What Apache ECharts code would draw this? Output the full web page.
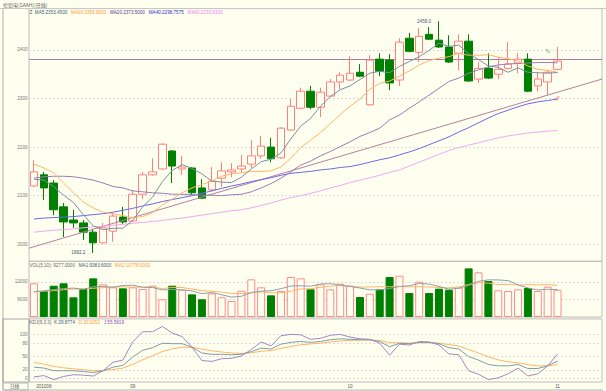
<!DOCTYPE html>
<html><head><meta charset="utf-8">
<script src="https://cdn.jsdelivr.net/npm/echarts@6.0.0/dist/echarts.min.js"></script>
<style>html,body{margin:0;padding:0;background:#fffff0;}#c{width:606px;height:391px;}</style>
</head><body><div id="c"></div>
<script>
// ---------- data ----------
const slotCount = 58; // 54 trading days + 4 empty slots on the right
const monthTickIndex = [1, 10, 32, 53];
const monthTickLabel = ['201008', '09', '10', '11'];
const priceTicks = [2000, 2100, 2200, 2300, 2400];
const volTicks = [6000, 12000];
const kdjTicks = [0, 20, 50, 80, 100];

const opens = [2120,2143,2126,2077,2050,2044,2025,2003,2027,2056,
  2048,2103,2143,2155,2192,2155,2157,2116,2112,2136,
  2149,2155,2165,2182,2200,2178,2235,2280,2315,2282,
  2305,2334,2338,2354,2287,2381,2379,2338,2424,2395,
  2432,2420,2406,2393,2418,2340,2362,2350,2362,2373,
  2381,2326,2334,2360];
const closes = [2149,2116,2071,2046,2044,2025,2003,2034,2058,2046,
  2103,2143,2149,2206,2161,2159,2106,2095,2130,2151,
  2153,2161,2182,2202,2176,2239,2284,2315,2282,2313,
  2334,2348,2352,2346,2379,2356,2332,2416,2397,2428,
  2422,2406,2375,2418,2336,2362,2342,2360,2371,2381,
  2315,2340,2354,2377];
const lows = [2118,2091,2060,2015,2034,2009,1982.2,2001,2005,2042,
  2046,2093,2141,2153,2126,2143,2101,2093,2108,2118,
  2138,2147,2157,2176,2169,2176,2233,2278,2278,2262,
  2303,2319,2336,2344,2285,2346,2317,2326,2395,2375,
  2420,2404,2373,2358,2334,2332,2340,2340,2360,2352,
  2313,2315,2307,2358];
const highs = [2173,2149,2132,2085,2071,2050,2032,2044,2064,2077,
  2112,2149,2177,2208,2194,2182,2159,2134,2159,2169,
  2167,2184,2214,2223,2219,2241,2299,2322,2326,2322,
  2340,2354,2387,2371,2389,2393,2391,2424,2435,2445,
  2447,2459,2430,2432,2432,2375,2393,2385,2416,2393,
  2393,2354,2358,2406];

const ma5 = [2134,2132,2119,2101,2086,2061,2038,2030,2033,2033,
  2049,2077,2097,2129,2152,2164,2156,2145,2130,2128,
  2127,2138,2155,2170,2175,2188,2217,2243,2259,2284,
  2304,2318,2326,2339,2352,2356,2353,2366,2376,2386,
  2399,2414,2407,2410,2392,2380,2367,2364,2354,2363,
  2354,2353,2352,2353.45];
const ma10 = [2165,2157,2147,2126,2106,2087,2075,2066,2063,2059,
  2055,2057,2065,2081,2093,2106,2116,2123,2130,2140,
  2145,2147,2150,2150,2151,2159,2177,2199,2214,2230,
  2248,2267,2284,2299,2319,2331,2336,2346,2357,2369,
  2378,2383,2386,2393,2389,2389,2390,2385,2382,2377,
  2367,2360,2358,2353.95];
const ma20 = [2136,2139,2140,2140,2139,2136,2132,2126,2119,2116,
  2110,2108,2106,2105,2103,2103,2102,2101,2101,2100,
  2102,2103,2108,2116,2125,2136,2149,2163,2171,2182,
  2191,2201,2211,2222,2230,2239,2256,2266,2280,2293,
  2307,2321,2335,2342,2352,2359,2365,2369,2371,2372,
  2373,2374,2374,2373.5];
const ma40 = [2052,2054,2055,2056,2057,2059,2061,2063,2066,2070,
  2074,2079,2083,2088,2092,2096,2100,2105,2110,2115,
  2120,2124,2129,2133,2137,2142,2146,2148,2150,2153,
  2155,2158,2160,2164,2169,2174,2178,2184,2190,2197,
  2205,2213,2221,2231,2240,2250,2260,2269,2276,2283,
  2289,2293,2296,2298.7575];
const ma60 = [2025,2027,2029,2030,2032,2034,2036,2037,2039,2041,
  2043,2045,2047,2049,2052,2054,2057,2060,2063,2066,
  2069,2071,2075,2080,2085,2091,2096,2100,2105,2110,
  2116,2121,2127,2132,2137,2142,2148,2153,2161,2169,
  2177,2185,2193,2199,2204,2209,2214,2219,2223,2226,
  2229,2231,2233,2233.8333];

const trendLine = [[-0.5, 1992], [57.5, 2340]];
const resistanceLevel = 2381;

const volumes = [11490,8860,10680,11490,6720,9550,13180,11140,10120,9770,
  10120,9550,10680,6030,10680,9320,7720,6030,8070,6720,
  5450,8980,12850,10120,7390,8860,13640,13180,9430,11140,
  9430,11360,10680,6820,7950,9430,13640,14090,8180,12050,
  8180,9660,9320,10000,16590,15230,12270,9090,8860,9430,
  9890,8860,10330,9277];
const volMa5 = [8700,8900,9300,9700,9850,9460,10320,10420,10140,10750,
  10870,10140,10050,9230,9410,9250,8890,7960,8360,7570,
  6800,7050,8410,8820,8960,9640,10570,10640,10500,11250,
  11360,10910,10410,9890,9250,9250,9700,10390,10660,11480,
  11230,10430,9480,9840,10750,12160,12680,12640,12410,10980,
  9910,9230,9470,9383.6];
const volMa10 = [8500,8800,9000,9300,9500,9600,9800,10000,10200,10300,
  10160,10230,10230,9690,10080,10060,9510,9000,8800,8490,
  8030,7970,8190,8590,8270,8220,8810,9530,9660,10100,
  10500,10740,10520,10190,10250,10310,10310,10400,10270,10360,
  10240,10070,9930,10250,11110,11690,11560,11060,11130,10860,
  11030,10950,11060,10778];

const kdjK = [26,24,18,18,18,16,14,18,26,30,
  49,64,70,80,79,79,71,58,55,55,
  54,55,61,69,67,78,82,84,82,84,
  88,90,89,88,88,84,72,80,79,82,
  82,79,70,67,50,42,32,29,29,32,
  23,23,29,39.8774];
const kdjD = [37,32.7,27.8,24.5,22.3,20.2,18.1,18.1,20.7,23.8,
  32.2,42.8,51.9,61.3,67.2,71.1,71.1,66.7,62.8,60.2,
  58.1,57.1,58.4,61.9,63.6,68.4,72.9,76.6,78.4,80.3,
  82.9,85.2,86.5,87.0,87.3,86.2,81.5,81.0,80.3,80.9,
  81.3,80.5,77.0,73.7,65.8,57.9,49.2,42.5,38.0,36.0,
  31.7,28.8,28.9,32.0252];
const kdjJ = [4,7,-2,5,9,8,6,18,37,42,
  83,106,106,118,103,95,71,41,39,45,
  46,51,66,83,74,97,100,99,89,91,
  98,100,94,90,89,80,53,78,76,84,
  83,76,56,54,18,10,-2,2,11,24,
  6,11,29,55.5819];

const highMark = {index: 41, value: 2459.0};
const lowMark = {index: 6, value: 1982.2};

// ---------- chart ----------
const BG = '#fffff0';
const UP = '#ff7f7f';
const DOWN = '#008000';
const FONT = 'Liberation Sans';
const FS = 4.6;
const last = a => a[a.length - 1];
const fmt4 = v => v.toFixed(4);

const categories = Array.from({length: slotCount}, (_, i) => 'd' + i);
const candleData = opens.map((o, i) => [o, closes[i], lows[i], highs[i]]);
const volData = volumes.map((v, i) => ({
  value: v,
  itemStyle: closes[i] >= opens[i]
    ? {color: BG, borderColor: '#ff8a8a', borderWidth: 1}
    : {color: DOWN, borderColor: DOWN, borderWidth: 1}
}));

const near = (v, arr) => arr.some(t => Math.abs(v - t) < 1e-6);
const gridCommon = {left: 29, right: 4, show: true, borderColor: '#bdbdbd', borderWidth: 1, backgroundColor: 'transparent'};
const catAxis = (g, showLabel) => ({
  type: 'category', gridIndex: g, data: categories, boundaryGap: true,
  axisLine: {show: false}, axisTick: {show: false}, splitLine: {show: false},
  axisLabel: showLabel ? {
    show: true, interval: 0, margin: 2, fontSize: FS, fontFamily: FONT, color: '#555',
    formatter: (v, idx) => { const k = monthTickIndex.indexOf(idx); return k >= 0 ? monthTickLabel[k] : ''; }
  } : {show: false}
});
const valAxis = (g, min, max, interval, ticks) => ({
  type: 'value', gridIndex: g, min, max, interval, scale: true,
  axisLine: {show: false}, axisTick: {show: false}, splitLine: {show: false},
  axisLabel: {show: true, margin: 1.5, fontSize: FS, fontFamily: FONT, color: '#777',
    showMinLabel: false, showMaxLabel: false,
    formatter: v => near(v, ticks) ? String(Math.round(v)) : ''}
});
const gridLineSeries = (g, ticks, extra) => ({
  type: 'line', xAxisIndex: g, yAxisIndex: g, data: categories.map(() => null), z: 1, silent: true,
  symbol: 'none',
  markLine: {z: 1, symbol: 'none', silent: true, animation: false, label: {show: false},
    lineStyle: {color: '#dcdcdc', type: [2, 2], width: 1},
    data: ticks.map(t => ({yAxis: t})).concat(extra || [])}
});
const lineS = (xi, yi, data, color, z) => ({
  type: 'line', xAxisIndex: xi, yAxisIndex: yi, data, symbol: 'none', silent: true,
  lineStyle: {color, width: 1}, z: z || 4
});

const textStyle = (c) => ({color: c, fontSize: FS, fontFamily: FONT});

const option = {
  animation: false,
  backgroundColor: BG,
  title: [
    {text: '伦铝电(SAAH)(日线)', left: 3, top: 1.5, padding: 0,
      textStyle: {fontSize: 5, fontFamily: 'Noto Sans CJK SC', color: '#666', fontWeight: 'normal'}},
    {left: 29.5, top: 9.8, padding: 0,
      text: '{z|Z}  {a|MA5:' + fmt4(last(ma5)) + '}   {b|MA10:' + fmt4(last(ma10)) + '}   {c|MA20:' + fmt4(last(ma20)) + '}   {d|MA40:' + fmt4(last(ma40)) + '}   {e|MA60:' + fmt4(last(ma60)) + '}',
      textStyle: {fontSize: FS, fontFamily: FONT, fontWeight: 'normal', rich: {
        z: textStyle('#555'), a: textStyle('#3c5a78'), b: textStyle('#ff9a30'),
        c: textStyle('#5a3a90'), d: textStyle('#3030c8'), e: textStyle('#ee80ee')}}},
    {left: 29.5, top: 263, padding: 0,
      text: '{v|VOL(5,10): ' + fmt4(last(volumes)) + '}   {a|MA1:' + fmt4(last(volMa5)) + '}   {b|MA2:' + fmt4(last(volMa10)) + '}',
      textStyle: {fontSize: FS, fontFamily: FONT, fontWeight: 'normal', rich: {
        v: textStyle('#666'), a: textStyle('#3c5a78'), b: textStyle('#ff9a30')}}},
    {left: 29.5, top: 319.8, padding: 0,
      text: '{v|KDJ(9,3,3)}  {a|K:' + fmt4(last(kdjK)) + '}   {b|D:' + fmt4(last(kdjD)) + '}   {c|J:' + fmt4(last(kdjJ)) + '}',
      textStyle: {fontSize: FS, fontFamily: FONT, fontWeight: 'normal', rich: {
        v: textStyle('#666'), a: textStyle('#3c5a78'), b: textStyle('#ff9a30'), c: textStyle('#8a50b0')}}},
    {text: '日线', left: 10, top: 384, padding: 0,
      textStyle: {fontSize: 4.6, fontFamily: 'Noto Sans CJK SC', color: '#555', fontWeight: 'normal'}}
  ],
  graphic: [
    {type: 'line', shape: {x1: 3, y1: 8.5, x2: 3, y2: 390}, style: {stroke: '#b0b0b0', lineWidth: 1}, silent: true},
    {type: 'line', shape: {x1: 3, y1: 390, x2: 603, y2: 390}, style: {stroke: '#b0b0b0', lineWidth: 1}, silent: true},
    {type: 'line', shape: {x1: 0, y1: 8.5, x2: 606, y2: 8.5}, style: {stroke: '#c8c8c8', lineWidth: 1}, silent: true},
    {type: 'rect', shape: {x: 3, y: 319, width: 26, height: 63}, style: {fill: 'none', stroke: '#a8a8a8', lineWidth: 1.2}, silent: true},
    {type: 'rect', shape: {x: 3, y: 383, width: 25, height: 7}, style: {fill: 'none', stroke: '#b8b8b8', lineWidth: 1}, silent: true}
  ],
  grid: [
    Object.assign({top: 8.6, height: 252.7}, gridCommon),
    Object.assign({top: 261.3, height: 55.7}, gridCommon),
    Object.assign({top: 318.9, height: 63.1}, gridCommon)
  ],
  xAxis: [
    catAxis(0, false), catAxis(1, false), catAxis(2, true),
    {type: 'value', gridIndex: 0, min: -0.5, max: slotCount - 0.5, show: false}
  ],
  yAxis: [
    valAxis(0, 1965, 2485, 5, priceTicks),
    valAxis(1, 0, 19000, 1000, volTicks),
    valAxis(2, -7.5, 135, 2.5, kdjTicks)
  ],
  series: [
    gridLineSeries(0, priceTicks, [{yAxis: resistanceLevel, lineStyle: {color: '#b07aa4', type: 'solid', width: 1}}]),
    gridLineSeries(1, volTicks),
    gridLineSeries(2, kdjTicks),
    {
      type: 'candlestick', xAxisIndex: 0, yAxisIndex: 0, data: candleData, barWidth: 8, z: 3, silent: true,
      itemStyle: {color: BG, color0: DOWN, borderColor: UP, borderColor0: DOWN, borderWidth: 1},
      markPoint: {
        silent: true, animation: false, symbol: 'circle', symbolSize: 1, itemStyle: {color: 'transparent'},
        data: [
          {coord: [highMark.index, highMark.value], label: {show: true, position: 'left', distance: 1.5, formatter: highMark.value.toFixed(1) + ' →', fontSize: FS, fontFamily: FONT, color: '#3c5a78'}},
          {coord: [lowMark.index, lowMark.value], label: {show: true, position: 'left', distance: 1.5, formatter: lowMark.value.toFixed(1) + ' →', fontSize: FS, fontFamily: FONT, color: '#3c5a78'}},
          {coord: [52, 2396], label: {show: true, position: 'inside', formatter: '✎', fontSize: 7, color: '#70c070'}},
          {coord: [53, 2302], label: {show: true, position: 'inside', formatter: '✎', fontSize: 7, color: '#f08080', rotate: 90}}
        ]
      }
    },
    lineS(3, 0, trendLine, '#b4809e', 4),
    lineS(0, 0, ma60, '#f2a6f2'),
    lineS(0, 0, ma40, '#6868f0'),
    lineS(0, 0, ma20, '#9a7cb6'),
    lineS(0, 0, ma10, '#ffb466'),
    lineS(0, 0, ma5, '#7890a0'),
    {type: 'bar', xAxisIndex: 1, yAxisIndex: 1, data: volData, barWidth: 8, z: 3, silent: true},
    lineS(1, 1, volMa10, '#ffb466'),
    lineS(1, 1, volMa5, '#8ca0aa'),
    lineS(2, 2, kdjD, '#ffb466'),
    lineS(2, 2, kdjK, '#7f9ca6'),
    lineS(2, 2, kdjJ, '#a484c4')
  ]
};

const chart = echarts.init(document.getElementById('c'), null, {renderer: 'svg', width: 606, height: 391});
chart.setOption(option);
</script></body></html>
